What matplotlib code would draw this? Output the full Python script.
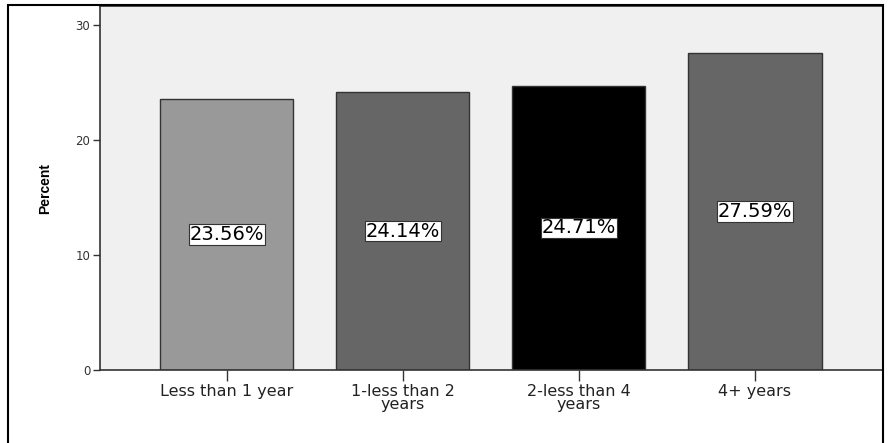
import matplotlib.pyplot as plt
import matplotlib.patches as patches
import numpy as np

# categories and percentages
categories = ["Less than 1 year", "1-less than 2\nyears", "2-less than 4\nyears", "4+ years"]
percent = [23.56, 24.14, 24.71, 27.59]
bar_colors = ["#999999", "#666666", "#000000", "#666666"]
y_ticks = [0, 10, 20, 30]

fig = plt.figure(figsize=(8.9, 4.43), dpi=100)
ax = fig.add_axes([100 / 890, 1 - 370 / 443, 783 / 890, 364 / 443])
ax.set_facecolor("#f0f0f0")

x = np.arange(len(categories))
ax.bar(x, percent, width=0.756, color=bar_colors, edgecolor="#333333", linewidth=1)

# value labels in white boxes at half the bar height
for xi, v in zip(x, percent):
    ax.text(xi, v / 2, "%.2f%%" % v, ha="center", va="center", fontsize=14,
            family="DejaVu Sans", color="black",
            bbox=dict(boxstyle="square,pad=0.04", facecolor="white",
                      edgecolor="#333333", linewidth=0.8))

ax.set_xlim(-0.72, 3.727)
ax.set_ylim(0, 31.65)
ax.set_xticks(x)
ax.set_xticklabels(categories, fontsize=11.5, family="DejaVu Sans", color="#222222",
                   linespacing=0.85)
ax.set_yticks(y_ticks)
ax.set_yticklabels([str(t) for t in y_ticks], fontsize=8.5, family="DejaVu Sans", color="#333333")
ax.tick_params(axis="x", length=8, width=1, color="#333333", pad=2)
ax.tick_params(axis="y", length=5, width=1, color="#333333", pad=2)
ax.set_ylabel("Percent", fontsize=10, fontweight="bold", family="Liberation Sans", labelpad=17)

for s in ax.spines.values():
    s.set_color("#333333")
    s.set_linewidth(1.2)

# outer frame of the output
frame = patches.Rectangle((8 / 890, -0.1), 875 / 890, 1.1 - 5 / 443, transform=fig.transFigure,
                          fill=False, edgecolor="black", linewidth=1.5, zorder=0)
fig.patches.append(frame)

fig.savefig("out.png", dpi=100)
